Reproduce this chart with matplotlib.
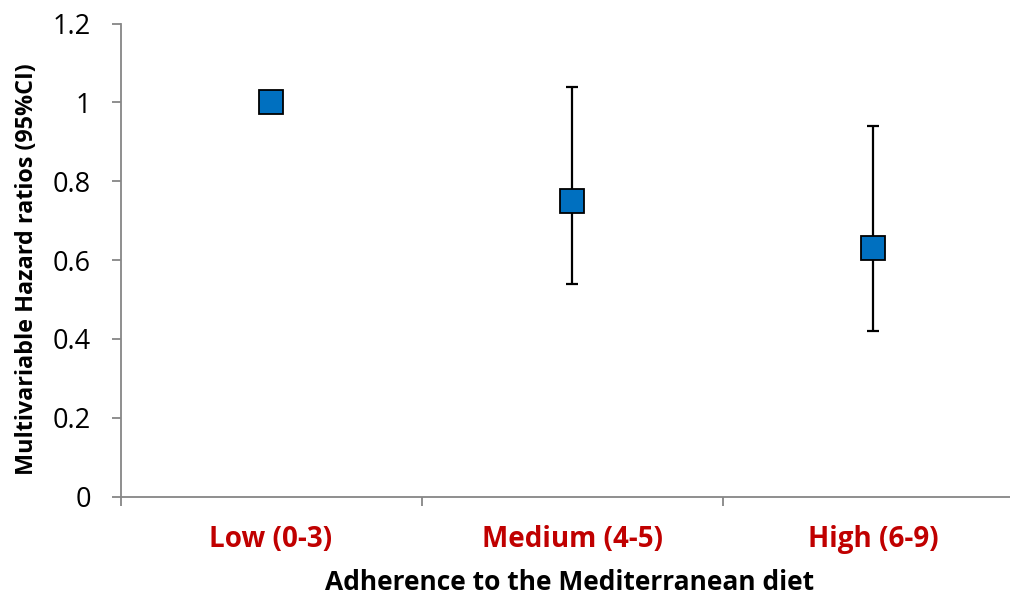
import matplotlib
matplotlib.use("Agg")
import matplotlib.pyplot as plt
import numpy as np

categories = ["Low (0-3)", "Medium (4-5)", "High (6-9)"]
hr = [1.0, 0.75, 0.63]
ci_low = [1.0, 0.54, 0.42]
ci_high = [1.0, 1.04, 0.94]
yticks = [0, 0.2, 0.4, 0.6, 0.8, 1.0, 1.2]
ytick_labels = ["0", "0.2", "0.4", "0.6", "0.8", "1", "1.2"]

plt.rcParams['font.family'] = ['Open Sans', 'DejaVu Sans']

W, H = 1010, 595
fig = plt.figure(figsize=(W / 100, H / 100), dpi=100)
left, right, bottom, top = 120.5, 1010, 496.7, 23.5
ax = fig.add_axes([left / W, 1 - bottom / H, (right - left) / W, (bottom - top) / H])

x = np.arange(len(categories))
hr_a = np.array(hr)
yerr = np.vstack([hr_a - np.array(ci_low), np.array(ci_high) - hr_a])
has_err = (yerr.sum(axis=0) > 0)
ax.errorbar(x[has_err], hr_a[has_err], yerr=yerr[:, has_err], fmt='none',
            ecolor='black', elinewidth=1.6, capsize=4.2, capthick=1.6, zorder=2)
ax.plot(x, hr_a, linestyle='none', marker='s', markersize=17.5,
        markerfacecolor='#0070C0', markeredgecolor='black', markeredgewidth=1.3, zorder=3)

step = 301.0
ax.set_yticks(yticks)
ax.set_yticklabels(ytick_labels)
ax.set_xticks(x)
ax.set_xticklabels(categories, color='#C00000', fontweight='bold', fontsize=20)
for lab in ax.get_xticklabels():
    lab.set_va('baseline')
ax.set_xticks(np.arange(-0.5, 2.0, 1.0), minor=True)
ax.set_xlim(-0.5, -0.5 + (right - left) / step)
ax.set_ylim(0, 1.2)
ax.tick_params(axis='x', which='major', length=0, pad=36.3)
ax.tick_params(axis='x', which='minor', length=6.5, width=1.3, color='#868686')
ax.tick_params(axis='y', length=6.5, width=1.3, color='#868686', labelsize=19.5, pad=15)

for s in ['top', 'right']:
    ax.spines[s].set_visible(False)
for s in ['left', 'bottom']:
    ax.spines[s].set_color('#868686')
    ax.spines[s].set_linewidth(1.3)

fig.text(570 / W, 1 - 590 / H, "Adherence to the Mediterranean diet",
         ha='center', va='baseline', fontsize=19, fontweight='bold')
fig.text(27 / W, 1 - 269 / H, "Multivariable Hazard ratios (95%CI)", rotation=90,
         ha='center', va='center', fontsize=16.8, fontweight='bold')

fig.savefig("out.png", dpi=100)
